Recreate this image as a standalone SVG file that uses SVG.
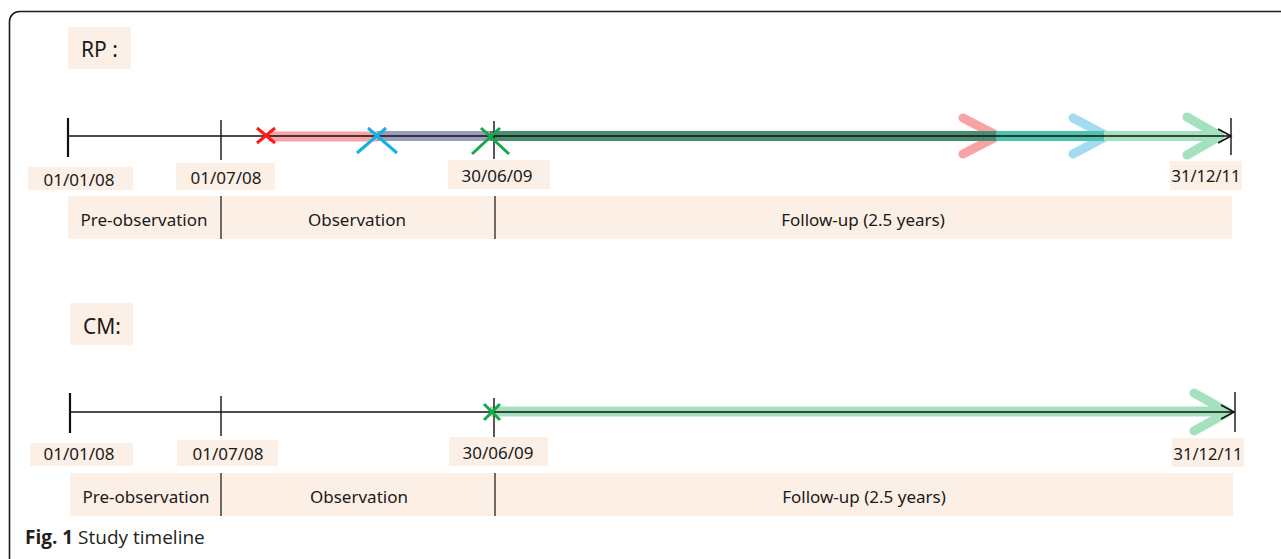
<svg xmlns="http://www.w3.org/2000/svg" width="1281" height="559" viewBox="0 0 1281 559">
<style>
.box{fill:#fcefe6}
.t{font-family:"Noto Sans","Open Sans",sans-serif;font-size:17px;fill:#1a1a1a;text-anchor:middle}
.d{font-size:16.5px}
.lbl{font-family:"Noto Sans","Open Sans",sans-serif;font-size:21px;fill:#1a1a1a;text-anchor:middle}
.ax{stroke:#111;stroke-width:1.6;fill:none}
.tk{stroke:#111;stroke-width:1.4}
.tk2{stroke:#111;stroke-width:2.2}
.div{stroke:#222;stroke-width:1.3}
.bnd{fill:none;stroke-width:10;stroke-linecap:butt}
.chev{fill:none;stroke-width:9;stroke-linecap:round;stroke-linejoin:round}
.r{stroke:#f7a3a6}.b{stroke:#a3dbf3}.g{stroke:#a4e2bf}
.rb{stroke:#9b9bbb}.rbg{stroke:#4b8d72}.bg{stroke:#4fc2aa}
.xr{stroke:#ff1a1a;stroke-width:3}.xb{stroke:#1aaee8;stroke-width:3}.xg{stroke:#16a94b;stroke-width:3}
</style>
<rect width="1281" height="559" fill="#fff"/>
<rect x="9.5" y="11.5" width="1300" height="557" rx="10" fill="none" stroke="#1a1a1a" stroke-width="1.6"/>

<g id="rp-title"><rect class="box" x="68" y="27" width="63" height="42"/><text class="lbl" x="99.5" y="57">RP :</text></g>

<g id="rp-bands">
<rect class="box" x="68" y="196" width="1164" height="43"/>
<line class="div" x1="221" y1="196" x2="221" y2="239"/>
<line class="div" x1="495" y1="196" x2="495" y2="239"/>
<text class="t" x="144" y="226">Pre-observation</text>
<text class="t" x="357" y="226">Observation</text>
<text class="t" x="863" y="226">Follow-up (2.5 years)</text>
</g>

<g id="rp-dates">
<rect class="box" x="28" y="167" width="105" height="23"/><text class="t" x="79" y="186">01/01/08</text>
<rect class="box" x="176" y="163" width="99" height="27"/><text class="t" x="226" y="184">01/07/08</text>
<rect class="box" x="448" y="160" width="102" height="29"/><text class="t" x="497" y="182">30/06/09</text>
<rect class="box" x="1170" y="161" width="72" height="29"/><text class="t d" x="1206" y="182">31/12/11</text>
</g>

<g id="rp-connectors">
<polyline class="chev r" points="963,118 998,136 963,154"/>
<polyline class="chev b" points="1073,118 1107,136 1073,154"/>
<polyline class="chev g" points="1187,117 1220,136 1187,155"/>
<line class="bnd r" x1="268" y1="136.5" x2="377" y2="136.5"/>
<line class="bnd rb" x1="377" y1="136" x2="490" y2="136"/>
<line class="bnd rbg" x1="490" y1="136" x2="996" y2="136"/>
<line class="bnd bg" x1="996" y1="136" x2="1104" y2="136"/>
<line class="bnd g" x1="1104" y1="136" x2="1217" y2="136"/>
<line class="ax" x1="68" y1="136" x2="1231" y2="136"/>
<polyline class="ax" points="1218,129 1231,136 1218,143"/>
<line class="tk2" x1="68" y1="118" x2="68" y2="157"/>
<line class="tk" x1="221" y1="120" x2="221" y2="160"/>
<line class="tk" x1="494" y1="121" x2="494" y2="159"/>
<line class="tk" x1="1231" y1="118" x2="1231" y2="155"/>
<path class="xr" d="M257 128 L275 143 M275 128 L257 143"/>
<path class="xb" d="M357 153 L386 128 M397 153 L368 128"/>
<path class="xg" d="M472 154 L500 128 M509 154 L481 128"/>
</g>

<g id="cm-title"><rect class="box" x="70" y="303" width="63" height="42"/><text class="lbl" x="102" y="334">CM:</text></g>

<g id="cm-bands">
<rect class="box" x="70" y="473" width="1163" height="43"/>
<line class="div" x1="221" y1="473" x2="221" y2="516"/>
<line class="div" x1="495" y1="473" x2="495" y2="516"/>
<text class="t" x="146" y="503">Pre-observation</text>
<text class="t" x="359" y="503">Observation</text>
<text class="t" x="864" y="503">Follow-up (2.5 years)</text>
</g>

<g id="cm-dates">
<rect class="box" x="30" y="443" width="103" height="23"/><text class="t" x="79" y="460">01/01/08</text>
<rect class="box" x="177" y="440" width="101" height="26"/><text class="t" x="228" y="460">01/07/08</text>
<rect class="box" x="449" y="437" width="99" height="29"/><text class="t" x="498" y="459">30/06/09</text>
<rect class="box" x="1172" y="438" width="72" height="29"/><text class="t d" x="1208" y="460">31/12/11</text>
</g>

<g id="cm-connectors">
<polyline class="chev g" points="1194,393 1228,412 1194,431"/>
<line class="bnd g" x1="490" y1="411.5" x2="1224" y2="411.5"/>
<line class="ax" x1="70" y1="412" x2="1234" y2="412"/>
<polyline class="ax" points="1221,405 1234,412 1221,419"/>
<line class="tk2" x1="70" y1="393" x2="70" y2="433"/>
<line class="tk" x1="221" y1="396" x2="221" y2="436"/>
<line class="tk" x1="494" y1="398" x2="494" y2="437"/>
<line class="tk" x1="1235" y1="392" x2="1235" y2="432"/>
<path class="xg" d="M484 404 L500 420 M500 404 L484 420"/>
</g>

<g id="caption"><text x="25" y="544" style="font-family:'Open Sans','Noto Sans',sans-serif;font-size:19px;fill:#231f20"><tspan font-weight="bold">Fig. 1</tspan> Study timeline</text></g>
</svg>
